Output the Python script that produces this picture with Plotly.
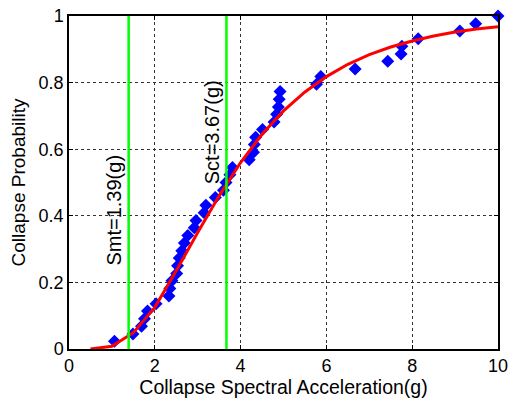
import plotly.graph_objects as go

# Observed collapse data (sorted collapse intensities and empirical probabilities)
obs_sa = [1.06, 1.49, 1.69, 1.76, 1.83, 2.03, 2.33, 2.35, 2.40, 2.51, 2.53, 2.57,
          2.63, 2.69, 2.77, 2.92, 2.96, 3.15, 3.19, 3.41, 3.60, 3.66, 3.75, 3.81,
          4.20, 4.30, 4.32, 4.35, 4.51, 4.78, 4.84, 4.88, 4.90, 4.92, 5.77, 5.87,
          6.67, 7.43, 7.74, 7.76, 8.14, 9.11, 9.48, 10.0]
obs_p = [0.023, 0.045, 0.068, 0.091, 0.114, 0.136, 0.159, 0.182, 0.205, 0.227,
         0.250, 0.273, 0.295, 0.318, 0.341, 0.364, 0.386, 0.409, 0.432, 0.455,
         0.477, 0.500, 0.523, 0.545, 0.568, 0.591, 0.614, 0.636, 0.659, 0.682,
         0.705, 0.727, 0.750, 0.773, 0.795, 0.818, 0.841, 0.864, 0.886, 0.909,
         0.932, 0.955, 0.977, 1.000]

# Fitted fragility curve
fit_sa = [0.5, 1.0, 1.5, 2.0, 2.5, 3.0, 3.5, 4.0, 4.5, 5.0,
          5.5, 6.0, 6.5, 7.0, 7.5, 8.0, 8.5, 9.0, 9.5, 10.0]
fit_p = [0.0, 0.008, 0.049, 0.125, 0.235, 0.350, 0.460, 0.560, 0.645, 0.715,
         0.772, 0.818, 0.855, 0.884, 0.907, 0.925, 0.940, 0.952, 0.961, 0.968]

# Marker lines
smt = 1.39
sct = 3.67
label_smt = "Smt=1.39(g)"
label_sct = "Sct=3.67(g)"

x_ticks = [0, 2, 4, 6, 8, 10]
y_ticks = [0, 0.2, 0.4, 0.6, 0.8, 1]

FONT = "Liberation Sans, Arial, sans-serif"

fig = go.Figure()

fig.add_trace(go.Scatter(x=obs_sa, y=obs_p, mode="markers",
                         marker=dict(symbol="diamond", size=10, color="#0000FF",
                                     line=dict(width=0)),
                         cliponaxis=False, showlegend=False))
fig.add_trace(go.Scatter(x=fit_sa, y=fit_p, mode="lines",
                         line=dict(color="#FF0000", width=3),
                         showlegend=False))
for v in (smt, sct):
    fig.add_trace(go.Scatter(x=[v, v], y=[0, 1], mode="lines",
                             line=dict(color="#00FF00", width=2.5),
                             showlegend=False))

fig.add_annotation(x=smt, y=0.245, xref="x", yref="y", text=label_smt,
                   textangle=-90, showarrow=False, xanchor="right",
                   yanchor="bottom", xshift=-2,
                   font=dict(family=FONT, size=20, color="black"))
fig.add_annotation(x=sct, y=0.49, xref="x", yref="y", text=label_sct,
                   textangle=-90, showarrow=False, xanchor="right",
                   yanchor="bottom", xshift=-2,
                   font=dict(family=FONT, size=20, color="black"))

axis_common = dict(showline=True, linecolor="black", linewidth=1.5, mirror="ticks",
                   ticks="inside", ticklen=4, tickcolor="black",
                   showgrid=True, gridcolor="#333333", griddash="dot", gridwidth=1,
                   zeroline=False, automargin=False,
                   tickfont=dict(family=FONT, size=18, color="black"))

fig.update_xaxes(range=[0, 10], tickvals=x_ticks, ticktext=[str(t) for t in x_ticks],
                 title=dict(text="Collapse Spectral Acceleration(g)", standoff=4,
                            font=dict(family=FONT, size=19.5, color="black")),
                 **axis_common)
fig.update_yaxes(range=[0, 1], tickvals=y_ticks, ticktext=["0", "0.2", "0.4", "0.6", "0.8", "1"],
                 title=dict(text="Collapse Probability", standoff=8,
                            font=dict(family=FONT, size=19, color="black")),
                 **axis_common)

fig.update_layout(width=509, height=402,
                  margin=dict(l=69, r=11, t=16, b=53),
                  plot_bgcolor="white", paper_bgcolor="white",
                  font=dict(family=FONT, color="black"))

fig.write_html("out.html")
